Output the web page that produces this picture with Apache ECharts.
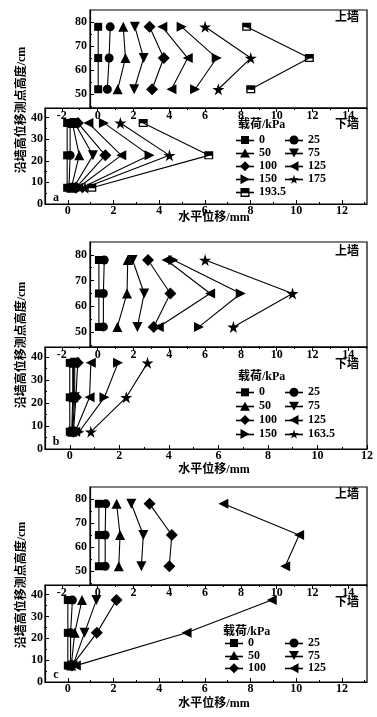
<!DOCTYPE html>
<html><head><meta charset="utf-8">
<script src="https://cdn.jsdelivr.net/npm/echarts@6/dist/echarts.min.js"></script>
<style>html,body{margin:0;padding:0;background:#fff}#c{width:377px;height:717px}</style>
</head><body><div id="c"></div><script>
// ---------------- data ----------------
const upperHeights = [78, 65, 52];          // cm, 上墙 measuring points
const lowerHeights = [37.5, 22.5, 7.5];     // cm, 下墙 measuring points

const loadsA = ['0','25','50','75','100','125','150','175','193.5'];
const upperA = [
  [0.03,0.03,0.03],[0.70,0.64,0.54],[1.43,1.55,1.12],[2.08,2.57,2.04],[2.90,3.69,3.04],
  [3.61,5.03,4.12],[4.69,6.65,5.44],[6.00,8.55,6.74],[8.32,11.82,8.55]];
const lowerA = [
  [-0.03,-0.03,-0.03],[0.10,0.10,0.05],[0.20,0.50,0.15],[0.30,1.10,0.25],[0.44,1.64,0.35],
  [0.90,2.34,0.45],[1.58,3.58,0.60],[2.30,4.45,0.75],[3.30,6.17,1.05]];

const loadsB = ['0','25','50','75','100','125','150','163.5'];
const upperB = [
  [0.07,0.07,0.07],[0.37,0.32,0.32],[1.68,1.64,1.10],[1.95,2.60,2.22],[2.81,4.06,3.13],
  [3.84,6.28,3.41],[4.23,7.99,5.66],[6.00,10.88,7.58]];
const lowerB = [
  [0,0,0],[0.12,0.12,0.08],[0.15,0.15,0.10],[0.20,0.20,0.12],[0.32,0.25,0.15],
  [0.85,0.80,0.22],[1.95,1.40,0.38],[3.14,2.28,0.85]];

const loadsC = ['0','25','50','75','100','125'];
const upperC = [
  [0.07,0.07,0.07],[0.45,0.42,0.42],[1.06,1.25,1.18],[1.88,2.55,2.44],[2.90,4.14,4.00],
  [7.02,11.25,10.47]];
const lowerC = [
  [0,0,0],[0.20,0.12,0.12],[0.62,0.30,0.15],[1.25,0.73,0.22],[2.13,1.27,0.18],
  [8.93,5.20,0.35]];

// tick labels
const upperXTicks = [-2,0,2,4,6,8,10,12,14];
const upperXMinor = [-1,1,3,5,7,9,11,13,15];
const lowerXTicks = [0,2,4,6,8,10,12];
const lowerXMinor = [1,3,5,7,9,11,13];
const upperYTicks = [50,60,70,80];
const upperYMinor = [45,55,65,75];
const lowerYTicks = [0,10,20,30,40];
const lowerYMinor = [5,15,25,35];

// ---------------- styles ----------------
const FONT = "'Liberation Serif','Noto Sans CJK SC',serif";
const txt = {color:'#000', fontFamily:FONT, fontWeight:'bold', fontSize:12};
const BLACK = '#000';
const STAR_PTS = [[50,0],[61,35],[98,35],[68,57],[79,91],[50,70],[21,91],[32,57],[2,35],[39,35]];
const poly = (pts)=> 'M' + pts.map(p=>p[0].toFixed(2)+','+p[1].toFixed(2)).join(' L') + ' Z';
const STAR = 'path://' + poly(STAR_PTS);
const SYM = {
  '0':['rect',8], '25':['circle',9], '50':['triangle',10],
  '75':['path://M0,0 L10,0 L5,9 Z',10],
  '100':['diamond',12],
  '125':['path://M9,0 L9,10 L0,5 Z',10],
  '150':['path://M0,0 L0,10 L9,5 Z',10],
  '175':[STAR,12], '163.5':[STAR,12],
  '193.5':['path://M0,0 L10,0 L10,10 L0,10 Z M1.5,5.5 L1.5,8.5 L8.5,8.5 L8.5,5.5 Z',[9,8]]
};
// legend markers (drawn in a 10x10 box)
const LEG_SHAPE = {
  '0':'M1,1 L9,1 L9,9 L1,9 Z',
  '25':'M0.5,5 A4.5,4.5 0 1,1 9.5,5 A4.5,4.5 0 1,1 0.5,5 Z',
  '50':'M5,0.5 L10,9.5 L0,9.5 Z',
  '75':'M0,0.5 L10,0.5 L5,9.5 Z',
  '100':'M5,0 L10,5 L5,10 L0,5 Z',
  '125':'M9.5,0 L9.5,10 L0.5,5 Z',
  '150':'M0.5,0 L9.5,5 L0.5,10 Z',
  '175':poly(STAR_PTS.map(p=>[p[0]*0.1, 0.45+p[1]*0.1])),
  '163.5':poly(STAR_PTS.map(p=>[p[0]*0.1, 0.45+p[1]*0.1])),
  '193.5':'M0.5,0.5 L9.5,0.5 L9.5,9.5 L0.5,9.5 Z M1.8,5.3 L1.8,8.2 L8.2,8.2 L8.2,5.3 Z'
};
function legendIcon(name){
  return 'path://M0,0 L0,0 M10,10 L10,10 ' + LEG_SHAPE[name];
}

const grid=[], xAxis=[], yAxis=[], series=[], legend=[], graphic=[];
const add=(arr,o)=>{arr.push(o);return arr.length-1;};

const UX_MIN = -2.94, UX_MAX = 15.04;          // upper x axis across full width (x 45..367)
const UX_BOX_MIN = UX_MIN + (90-45)/(322/(UX_MAX-UX_MIN)); // at upper box left edge
const UY_MIN = 44.2, UY_MAX = 85, LY_MIN = 0, LY_MAX = 44.4;

function axisCommon(extra){
  return Object.assign({type:'value', splitLine:{show:false}}, extra);
}
function ticksAxis(isX, gi, min, max, major, minor, labelOpt, inside, position){
  const mk = (vals, len, lab) => axisCommon({
    gridIndex:gi, min, max, position,
    axisLine:{show: lab, onZero:false, lineStyle:{color:BLACK, width:1.2}},
    axisTick:{show:true, inside, length:len, customValues:vals, lineStyle:{color:BLACK, width:1}},
    axisLabel: lab ? Object.assign({show:true, customValues:vals}, txt, labelOpt) : {show:false}
  });
  const arr = isX ? xAxis : yAxis;
  const i = add(arr, mk(major, 4, true));
  add(arr, mk(minor, 2, false));
  return i;
}

function panel(P, loads, upX, loX, letter){
  const gU = add(grid,{left:90, right:10, top:P.uTop, height:P.uH, show:true, borderColor:BLACK, borderWidth:1.2});
  const gT = add(grid,{left:45, right:10, top:P.uTop, height:P.uH, show:false});
  const gL = add(grid,{left:45, right:10, top:P.lTop, height:P.lH, show:true, borderColor:BLACK, borderWidth:1.2});

  const xU = add(xAxis, axisCommon({gridIndex:gU, min:UX_BOX_MIN, max:UX_MAX, show:false}));
  const yU = ticksAxis(false, gU, UY_MIN, UY_MAX, upperYTicks, upperYMinor, {margin:3}, true, 'left');

  ticksAxis(true, gT, UX_MIN, UX_MAX, upperXTicks, upperXMinor, {margin:2}, false, 'bottom');
  add(yAxis, axisCommon({gridIndex:gT, min:0, max:1, show:false}));

  const xL = ticksAxis(true, gL, -1, P.loMax, lowerXTicks, lowerXMinor, {margin:1}, true, 'bottom');
  const yL = ticksAxis(false, gL, LY_MIN, LY_MAX, lowerYTicks, lowerYMinor, {margin:2}, true, 'left');

  loads.forEach((name,i)=>{
    const [sym,size] = SYM[name];
    const base = {type:'line', name, symbol:sym, symbolSize:size, showSymbol:true, animation:false,
      itemStyle:{color:BLACK}, lineStyle:{color:BLACK, width:1.1}, silent:true};
    series.push(Object.assign({}, base, {xAxisIndex:xU, yAxisIndex:yU,
      data: upX[i].map((v,k)=>[v, upperHeights[k]])}));
    series.push(Object.assign({}, base, {xAxisIndex:xL, yAxisIndex:yL,
      data: loX[i].map((v,k)=>[v, lowerHeights[k]])}));
  });

  // legend: marker icons with a dash through them
  const col1 = loads.filter((_,i)=>i%2===0), col2 = loads.filter((_,i)=>i%2===1);
  [[col1,P.legX1],[col2,P.legX2]].forEach(([d,x])=>{
    legend.push({orient:'vertical', left:x+4, top:P.legRow1-6,
      data:d.map(n=>({name:n, icon:legendIcon(n)})), padding:0,
      itemWidth:10, itemHeight:10, itemGap:P.pitch-12, selectedMode:false,
      itemStyle:{color:BLACK, borderWidth:0},
      textStyle:Object.assign({}, txt, {lineHeight:12, padding:[0,0,0,4]})});
    d.forEach((_,k)=>{
      const y = Math.round(P.legRow1 + k*P.pitch) + 0.5;
      graphic.push({type:'rect', silent:true, shape:{x:x, y:y-0.8, width:18, height:1.6},
        style:{fill:BLACK}});
    });
  });

  const T = (text, x, y, align, extra) => graphic.push(Object.assign({type:'text', x, y, silent:true,
    style:{text, fill:BLACK, font:'bold 12px '+FONT, align, verticalAlign:'middle'}}, extra||{}));
  T('上墙', 359, P.upText, 'right');
  T('下墙', 359, P.dnText, 'right');
  T('载荷/kPa', P.titX, P.titY, 'left');
  T(letter, 56, P.abcY, 'center');
  T('水平位移/mm', 214, P.xTitle, 'center');
  T('沿墙高位移测点高度/cm', 22, P.yTitle, 'center', {rotation:Math.PI/2});
}

panel({uTop:10, uH:98, lTop:108, lH:96, loMax:13.1, legX1:236, legX2:285, legRow1:140, pitch:13.1,
  upText:17.5, dnText:125, titX:238, titY:125, abcY:198, xTitle:218, yTitle:110}, loadsA, upperA, lowerA, 'a');
panel({uTop:242, uH:105, lTop:347, lH:102, loMax:12, legX1:236, legX2:285, legRow1:392.3, pitch:13.9,
  upText:252, dnText:365, titX:238, titY:377, abcY:442, xTitle:470, yTitle:345}, loadsB, upperB, lowerB, 'b');
panel({uTop:487, uH:98, lTop:585, lH:97, loMax:13.1, legX1:225, legX2:285, legRow1:643, pitch:12.6,
  upText:495, dnText:603, titX:223, titY:632, abcY:675, xTitle:704, yTitle:585}, loadsC, upperC, lowerC, 'c');

const chart = echarts.init(document.getElementById('c'), null, {renderer:'canvas'});
chart.setOption({backgroundColor:'#fff', animation:false, grid, xAxis, yAxis, series, legend, graphic});
</script></body></html>
